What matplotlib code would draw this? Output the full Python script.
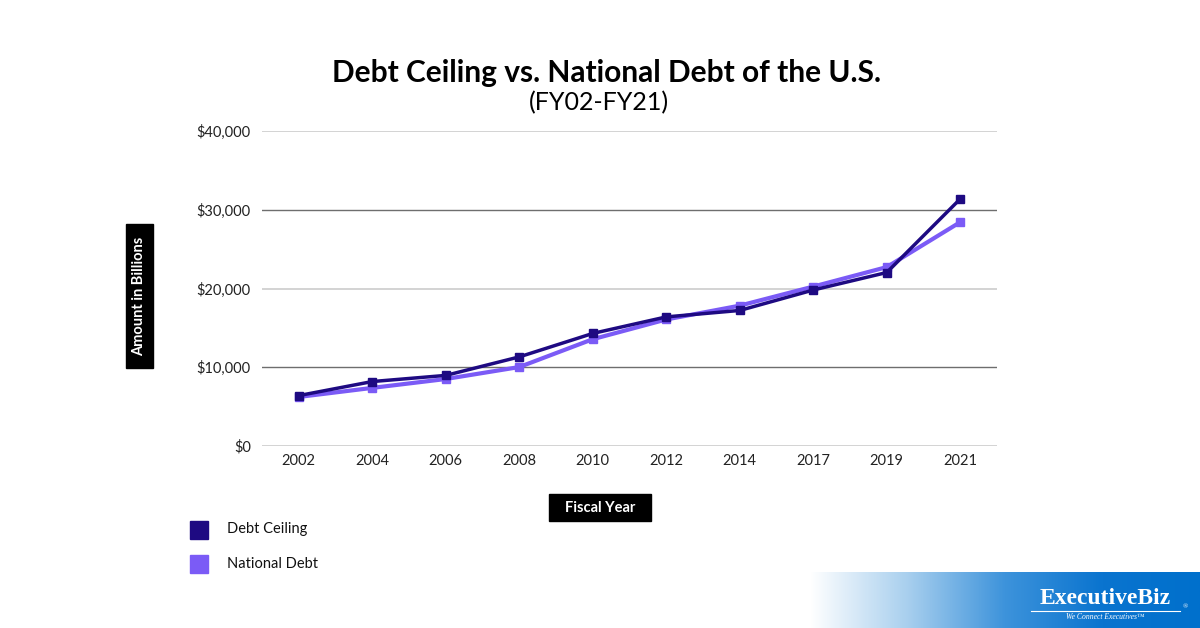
import matplotlib
matplotlib.use("Agg")
import matplotlib.pyplot as plt
import numpy as np
from matplotlib.patches import Rectangle

years = ["2002", "2004", "2006", "2008", "2010", "2012", "2014", "2017", "2019", "2021"]
debt_ceiling = [6400, 8184, 8965, 11315, 14294, 16394, 17212, 19808, 22030, 31381]
national_debt = [6228, 7379, 8507, 10025, 13562, 16066, 17824, 20245, 22719, 28429]
y_ticks = [0, 10000, 20000, 30000, 40000]
y_tick_labels = ["$0", "$10,000", "$20,000", "$30,000", "$40,000"]

c_ceiling = "#1e0a82"
c_debt = "#7b5bf6"

W, H = 1200, 628
fig = plt.figure(figsize=(W / 100, H / 100), dpi=100)
plt.rcParams['font.family'] = ['Lato', 'DejaVu Sans']

ax = fig.add_axes([262 / W, 1 - 446 / H, (997 - 262) / W, (446 - 131) / H])
x = np.arange(len(years))
ax.set_xlim(-0.5, len(years) - 0.5)
ax.set_ylim(0, 40000)

for i, t in enumerate(y_ticks):
    col = "#6e6e6e" if i % 2 == 1 else "#d0d0d0"
    lw = 1.0 if i % 2 == 1 else 1.3
    ax.axhline(t, color=col, lw=lw, zorder=1)

ax.plot(x, national_debt, color=c_debt, lw=3, marker="s", ms=6, zorder=3)
ax.plot(x, debt_ceiling, color=c_ceiling, lw=2.5, marker="s", ms=5.5, zorder=4)

ax.set_xticks(x)
ax.set_xticklabels(years, fontsize=10.5, color="#222222")
ax.set_yticks(y_ticks)
ax.set_yticklabels(y_tick_labels, fontsize=10.5, color="#222222")
ax.tick_params(axis="both", length=0)
ax.tick_params(axis="x", pad=6)
ax.tick_params(axis="y", pad=8)
for s in ax.spines.values():
    s.set_visible(False)

# Title
fig.text(607 / W, 1 - 73 / H, "Debt Ceiling vs. National Debt of the U.S.", ha="center", va="center",
         fontsize=21.5, fontweight="bold", color="black")
fig.text(599 / W, 1 - 103 / H, "(FY02-FY21)", ha="center", va="center", fontsize=18, color="black")

# Axis label boxes
fig.patches.append(Rectangle((126 / W, 1 - 368 / H), 27 / W, 144 / H, transform=fig.transFigure,
                             color="black", zorder=5))
fig.text(139.5 / W, 1 - 296 / H, "Amount in Billions", rotation=90, ha="center", va="center",
         fontsize=10.5, fontweight="bold", color="white", zorder=6)
fig.patches.append(Rectangle((549 / W, 1 - 521 / H), 102 / W, 27 / H, transform=fig.transFigure,
                             color="black", zorder=5))
fig.text(600 / W, 1 - 507.5 / H, "Fiscal Year", ha="center", va="center",
         fontsize=10.5, fontweight="bold", color="white", zorder=6)

# Legend
for yy, col, lab in [(529.5, c_ceiling, "Debt Ceiling"), (563.5, c_debt, "National Debt")]:
    fig.patches.append(Rectangle((190 / W, 1 - (yy + 9) / H), 18 / W, 18 / H, transform=fig.transFigure,
                                 color=col, zorder=5))
    fig.text(227 / W, 1 - yy / H, lab, ha="left", va="center", fontsize=10.5, color="#111111")

# Logo gradient
gax = fig.add_axes([810 / W, 0, (W - 810) / W, (628 - 572) / H])
grad = np.linspace(0, 1, 256)
cmap = matplotlib.colors.LinearSegmentedColormap.from_list("g", ["#ffffff", "#a8cfee", "#3d93db", "#0a74cf", "#0070cc"])
gax.imshow(grad[None, :], aspect="auto", cmap=cmap, extent=[0, 1, 0, 1])
gax.set_axis_off()
gax.text(0.757, 0.53, "ExecutiveBiz", ha="center", va="center", color="white",
         fontsize=17, fontweight="bold", family=["Liberation Serif", "DejaVu Serif"])
gax.text(0.955, 0.38, "\u00ae", ha="left", va="center", color="white", fontsize=5,
         family=["Liberation Serif", "DejaVu Serif"])
gax.plot([0.567, 0.949], [0.31, 0.31], color="white", lw=0.8, transform=gax.transAxes)
gax.text(0.757, 0.2, "We Connect Executives\u2122", ha="center", va="center", color="white",
         fontsize=5.5, style="italic", family=["Liberation Serif", "DejaVu Serif"])
gax.set_xlim(0, 1); gax.set_ylim(0, 1)

fig.savefig("out.png", dpi=100)
